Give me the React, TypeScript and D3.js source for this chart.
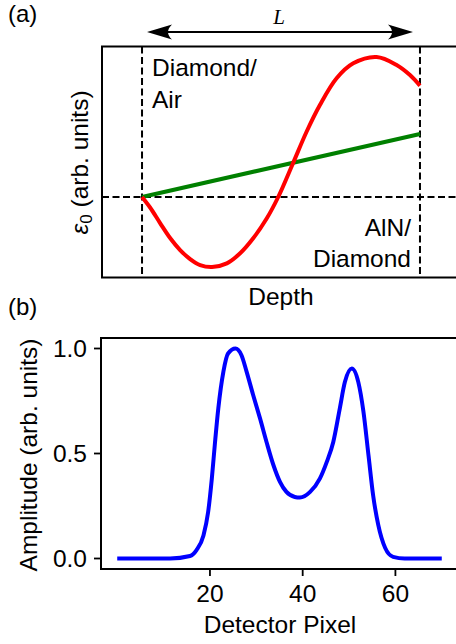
import * as d3 from "d3";

// panel (a): strain profile across the diamond layer (depth normalised 0..L)
const redDepth = [0, 0.029, 0.065, 0.101, 0.137, 0.173, 0.209, 0.252, 0.305, 0.353, 0.4, 0.449, 0.49, 0.544, 0.592, 0.64, 0.7, 0.76, 0.844, 0.916, 0.964, 1.0];
const redStrain = [0, -0.075, -0.186, -0.293, -0.379, -0.443, -0.486, -0.5, -0.474, -0.402, -0.295, -0.152, 0, 0.245, 0.466, 0.657, 0.848, 0.955, 1.0, 0.943, 0.871, 0.795];
const greenDepth = [0, 1];
const greenStrain = [0, 0.45];

// panel (b): detector signal
const pixel = [0, 8, 11.4, 15.7, 17.1, 18.6, 19.6, 20.4, 21.1, 21.8, 22.9, 23.9, 25.5, 26.8, 27.9, 29.3, 30.8, 32.2, 33.7, 35.1, 36.5, 38.3, 39.4, 41.6, 43.7, 45.2, 46.6, 48.0, 49.1, 50.6, 52.0, 53.1, 54.2, 55.2, 56.3, 57.8, 59.5, 62, 66, 70];
const amplitude = [0, 0, 0, 0.012, 0.04, 0.11, 0.22, 0.38, 0.555, 0.714, 0.89, 0.976, 1.0, 0.968, 0.89, 0.78, 0.667, 0.555, 0.444, 0.365, 0.317, 0.293, 0.29, 0.317, 0.38, 0.46, 0.555, 0.714, 0.84, 0.905, 0.84, 0.7, 0.49, 0.3, 0.16, 0.05, 0.008, 0, 0, 0];
const yTicksB = [0, 0.5, 1.0];
const xTicksB = [20, 40, 60];

const FONT = "'Liberation Sans', Arial, sans-serif";

export default function App() {
  const W = 456;
  const H = 644;

  var xa = d3.scaleLinear().domain([-0.144, 1.144]).range([102, 460]);
  var ya = d3.scaleLinear().domain([-0.575, 1.075]).range([277.5, 46.5]);
  var xb = d3.scaleLinear().domain([-3.5, 73.5]).range([101, 458]);
  var yb = d3.scaleLinear().domain([-0.05, 1.05]).range([569, 338]);

  const lineA = d3
    .line<number>()
    .x((d, i) => xa(redDepth[i]))
    .y((d) => ya(d))
    .curve(d3.curveCatmullRom.alpha(0.5));
  const greenLine = d3
    .line<number>()
    .x((d, i) => xa(greenDepth[i]))
    .y((d) => ya(d));
  const lineB = d3
    .line<number>()
    .x((d, i) => xb(pixel[i]))
    .y((d) => yb(d))
    .curve(d3.curveMonotoneX);

  const dash = "7,3.5";
  const arrowY = 32;
  const aL = 147;
  const aR = 413;

  const head = (tip: number, dir: number) => {
    const back = tip + dir * 25;
    const notch = tip + dir * 17;
    return `M${tip},${arrowY} L${back},${arrowY - 7.5} Q${notch},${arrowY} ${back},${arrowY + 7.5} Z`;
  };

  return (
    <svg
      width={W}
      height={H}
      style={{ position: "absolute", left: 0, top: 0, background: "#fff" }}
      fontFamily={FONT}
    >
      <rect width={W} height={H} fill="#fff" />
      {/* panel (a) */}
      <text x={8} y={22} fontSize={24}>(a)</text>
      <line x1={aL + 10} x2={aR - 10} y1={arrowY} y2={arrowY} stroke="#000" strokeWidth={2} />
      <path d={head(aL, 1)} fill="#000" />
      <path d={head(aR, -1)} fill="#000" />
      <text x={279} y={24} fontSize={21} fontStyle="italic" textAnchor="middle" fontFamily="'Liberation Serif', 'Times New Roman', serif">L</text>

      <line x1={xa(0)} x2={xa(0)} y1={ya.range()[1]} y2={ya.range()[0]} stroke="#000" strokeWidth={2} strokeDasharray={dash} />
      <line x1={xa(1)} x2={xa(1)} y1={ya.range()[1]} y2={ya.range()[0]} stroke="#000" strokeWidth={2} strokeDasharray={dash} />
      <line x1={xa.range()[0]} x2={xa.range()[1]} y1={ya(0)} y2={ya(0)} stroke="#000" strokeWidth={2} strokeDasharray={dash} />

      <path d={greenLine(greenStrain) || ""} fill="none" stroke="#008000" strokeWidth={4} />
      <path d={lineA(redStrain) || ""} fill="none" stroke="#ff0000" strokeWidth={4} />

      <rect
        x={xa.range()[0]}
        y={ya.range()[1]}
        width={xa.range()[1] - xa.range()[0]}
        height={ya.range()[0] - ya.range()[1]}
        fill="none"
        stroke="#000"
        strokeWidth={2}
      />

      <text x={152} y={76} fontSize={24.5}>Diamond/</text>
      <text x={152} y={108} fontSize={24.5}>Air</text>
      <text x={411} y={236} fontSize={24.5} textAnchor="end">AlN/</text>
      <text x={411} y={267} fontSize={24.5} textAnchor="end">Diamond</text>

      <text x={281} y={305} fontSize={24.5} textAnchor="middle">Depth</text>
      <text transform={`translate(88,162.5) rotate(-90)`} fontSize={24.5} textAnchor="middle">
        <tspan fontStyle="italic">ε</tspan>
        <tspan fontSize={17} dy={4}>0</tspan>
        <tspan dy={-4}> (arb. units)</tspan>
      </text>

      {/* panel (b) */}
      <text x={8} y={315} fontSize={24}>(b)</text>
      <path d={lineB(amplitude) || ""} fill="none" stroke="#0000ff" strokeWidth={4} />
      <rect
        x={xb.range()[0]}
        y={yb.range()[1]}
        width={xb.range()[1] - xb.range()[0]}
        height={yb.range()[0] - yb.range()[1]}
        fill="none"
        stroke="#000"
        strokeWidth={2}
      />
      {yTicksB.map((t) => (
        <g key={"y" + t}>
          <line x1={94} x2={101} y1={yb(t)} y2={yb(t)} stroke="#000" strokeWidth={1.8} />
          <text x={87} y={yb(t)} dy="0.35em" fontSize={24.5} textAnchor="end">
            {d3.format(".1f")(t)}
          </text>
        </g>
      ))}
      {xTicksB.map((t) => (
        <g key={"x" + t}>
          <line x1={xb(t)} x2={xb(t)} y1={569} y2={576} stroke="#000" strokeWidth={1.8} />
          <text x={xb(t)} y={602} fontSize={24.5} textAnchor="middle">
            {t}
          </text>
        </g>
      ))}
      <text x={280} y={633} fontSize={24.5} textAnchor="middle">Detector Pixel</text>
      <text transform={`translate(37,455) rotate(-90)`} fontSize={24.5} textAnchor="middle">
        Amplitude (arb. units)
      </text>
    </svg>
  );
}
